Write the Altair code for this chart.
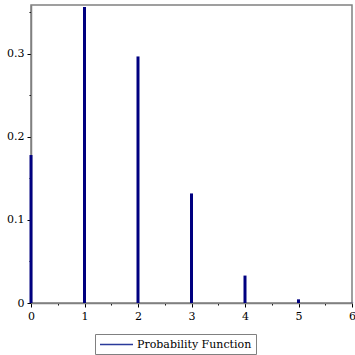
import altair as alt
import pandas as pd

ks = [0, 1, 2, 3, 4, 5, 6]
probs = [0.178, 0.356, 0.2966, 0.1318, 0.033, 0.0044, 0.0002]
series = ["Probability Function"] * len(ks)

df = pd.DataFrame({"k": ks, "p": probs, "series": series})

x_ticks = [i * 0.5 for i in range(13)]
y_ticks = [i * 0.05 for i in range(8)]

FONT = "DejaVu Serif"
GREY = "#808080"

chart = alt.Chart(df).mark_bar(size=3).encode(
    x=alt.X("k:Q", scale=alt.Scale(domain=[0, 6], nice=False, padding=0),
            axis=alt.Axis(values=x_ticks, title=None, grid=False,
                          labelExpr="datum.value % 1 === 0 ? format(datum.value, 'd') : ''",
                          tickSize={"condition": {"test": "datum.value % 1 === 0", "value": 4}, "value": 2},
                          labelFlush=False)),
    y=alt.Y("p:Q", scale=alt.Scale(domain=[0, 0.3585], nice=False, zero=True, padding=0),
            axis=alt.Axis(values=y_ticks, title=None, grid=False,
                          labelExpr="datum.value < 0.001 ? '0' : (abs(datum.value*10 - round(datum.value*10)) < 0.001 ? format(datum.value, '.1f') : '')",
                          tickSize={"condition": {"test": "abs(datum.value*10 - round(datum.value*10)) < 0.001", "value": 4}, "value": 2},
                          labelFlush=False)),
    color=alt.Color("series:N", scale=alt.Scale(range=["#000080"]),
                    legend=alt.Legend(title=None, orient="none", legendX=64, legendY=329,
                                      symbolType="M-1,0H5", symbolSize=121,
                                      symbolStrokeColor="#2a3a9a", symbolStrokeWidth=1.5,
                                      symbolFillColor="transparent",
                                      labelOffset=25,
                                      strokeColor=GREY, padding=4,
                                      labelFont=FONT, labelFontSize=11, labelColor="black")),
).properties(
    width=321, height=298,
    autosize=alt.AutoSizeParams(type="none"),
    padding={"left": 31, "top": 5, "right": 3, "bottom": 52},
).configure_view(
    stroke=GREY, strokeWidth=1.5
).configure_axis(
    domainColor=GREY, domainWidth=1.5, tickColor="black", tickWidth=1,
    labelFont=FONT, labelFontSize=11, labelColor="black", labelPadding=3
)

chart.save("out.html", embed_options={"renderer": "svg", "actions": False})
